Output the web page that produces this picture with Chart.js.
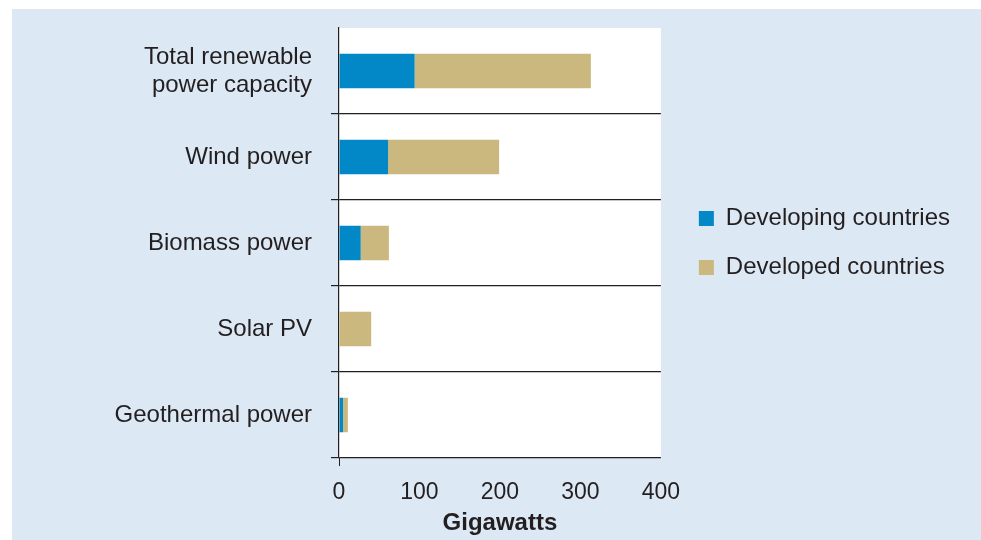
<!DOCTYPE html>
<html>
<head>
<meta charset="utf-8">
<script src="https://cdn.jsdelivr.net/npm/chart.js@4"></script>
<style>
  html, body { margin: 0; padding: 0; background: #ffffff; }
  #panel { position: absolute; left: 12px; top: 9px; width: 969px; height: 531px; background: #dce8f4; }
  canvas { display: block; }
</style>
</head>
<body>
<div id="panel"><canvas id="capacityChart" width="969" height="531"></canvas></div>
<script>
// Renewable power capacity by source, gigawatts
var categories = [
    ["Total renewable", "power capacity"],
    "Wind power",
    "Biomass power",
    "Solar PV",
    "Geothermal power"
];
var developing = [94, 61, 27, 0, 5];
var developed = [219, 138, 35, 40, 6];
var xTicks = [0, 100, 200, 300, 400];

var ink = "#231f20";
Chart.defaults.font.family = "'Liberation Sans', Arial, Helvetica, sans-serif";
Chart.defaults.color = ink;

// white plotting area
var plotBackground = {
    id: "plotBackground",
    beforeDraw: function (chart) {
        var a = chart.chartArea;
        var c = chart.ctx;
        c.save();
        c.fillStyle = "#ffffff";
        c.fillRect(a.left, a.top, a.right - a.left, a.bottom - a.top);
        c.restore();
    }
};

var ctx = document.getElementById("capacityChart").getContext("2d");
var capacityChart = new Chart(ctx, {
    type: "bar",
    data: {
        labels: categories,
        datasets: [{
            label: "Developing countries",
            data: developing,
            backgroundColor: "#0388c7",
            borderWidth: 0
        }, {
            label: "Developed countries",
            data: developed,
            backgroundColor: "#cbb87e",
            borderWidth: 0
        }]
    },
    options: {
        indexAxis: "y",
        responsive: false,
        animation: false,
        layout: { padding: { left: 0, right: 21, top: 19, bottom: 0 } },
        datasets: { bar: { barPercentage: 0.8, categoryPercentage: 0.5 } },
        scales: {
            x: {
                stacked: true,
                min: 0,
                max: 400,
                afterBuildTicks: function (scale) {
                    scale.ticks = xTicks.map(function (v) { return { value: v }; });
                },
                afterFit: function (scale) {
                    scale.height = 82;
                    scale.paddingLeft = 0;
                    scale.paddingRight = 0;
                },
                border: { display: false },
                grid: {
                    drawOnChartArea: false,
                    tickLength: 8,
                    color: function (c) {
                        return c.tick && c.tick.value === 0 ? ink : "transparent";
                    }
                },
                ticks: { font: { size: 23 }, padding: 13, color: ink },
                title: {
                    display: true,
                    text: "Gigawatts",
                    font: { size: 24, weight: "bold" },
                    color: ink,
                    padding: { top: 0, bottom: 2 }
                }
            },
            y: {
                stacked: true,
                afterFit: function (scale) {
                    scale.width = 327;
                    scale.paddingTop = 0;
                    scale.paddingBottom = 0;
                },
                border: { display: true, color: ink, width: 1.2 },
                grid: {
                    tickLength: 8,
                    lineWidth: 1.2,
                    color: function (c) { return c.index === 0 ? "transparent" : ink; }
                },
                ticks: { font: { size: 24, lineHeight: 1.17 }, padding: 19, color: ink }
            },
            y2: {
                type: "category",
                position: "right",
                afterFit: function (scale) {
                    scale.width = 13;
                    scale.paddingTop = 0;
                    scale.paddingBottom = 0;
                },
                grid: { display: false },
                border: { display: false },
                ticks: { display: false }
            }
        },
        plugins: {
            legend: {
                position: "right",
                fullSize: false,
                maxWidth: 300,
                labels: {
                    boxWidth: 15,
                    boxHeight: 15,
                    padding: 25,
                    color: ink,
                    font: { size: 24 }
                }
            },
            tooltip: { enabled: false }
        }
    },
    plugins: [plotBackground]
});
</script>
</body>
</html>
